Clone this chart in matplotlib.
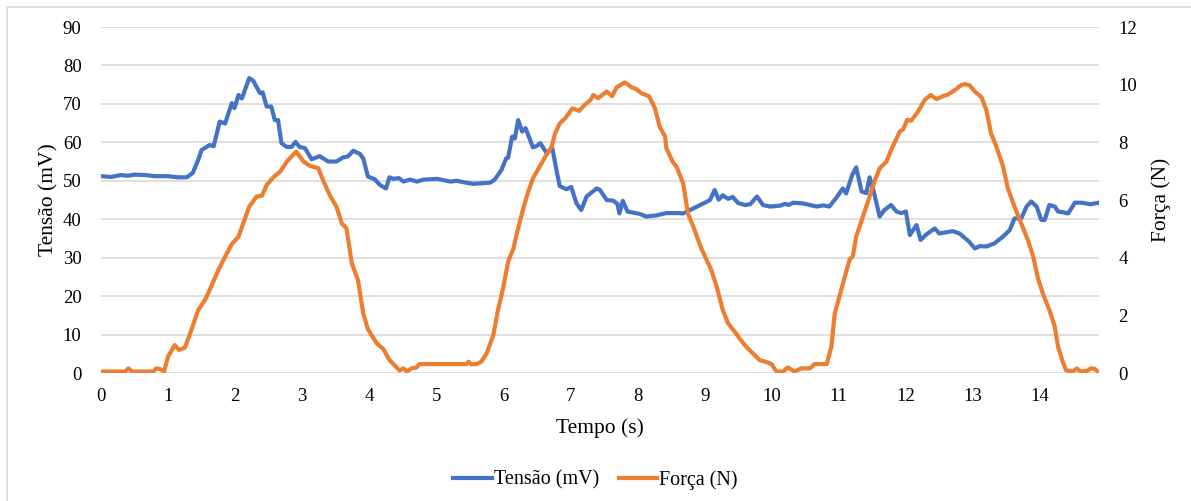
import numpy as np
import matplotlib
matplotlib.use('Agg')
import matplotlib.pyplot as plt
from matplotlib.patches import Rectangle

# Tensão (mV)
t_tensao = [0.00, 0.15, 0.30, 0.40, 0.50, 0.65, 0.80, 1.00, 1.15, 1.28, 1.37, 1.45, 1.50, 1.62, 1.68,
            1.77, 1.85, 1.95, 1.99, 2.05, 2.10, 2.21, 2.27, 2.37, 2.41, 2.47, 2.54, 2.59, 2.64, 2.69,
            2.77, 2.84, 2.90, 2.96, 3.04, 3.14, 3.26, 3.39, 3.51, 3.61, 3.68, 3.76, 3.86, 3.91, 3.98,
            4.08, 4.16, 4.25, 4.30, 4.36, 4.44, 4.51, 4.61, 4.71, 4.81, 5.01, 5.21, 5.31, 5.41, 5.55,
            5.80, 5.87, 5.97, 6.04, 6.07, 6.13, 6.17, 6.22, 6.28, 6.33, 6.44, 6.49, 6.55, 6.64, 6.73,
            6.79, 6.84, 6.94, 7.01, 7.09, 7.16, 7.24, 7.39, 7.44, 7.54, 7.64, 7.70, 7.73, 7.78, 7.85,
            8.03, 8.13, 8.28, 8.43, 8.62, 8.68, 8.83, 8.98, 9.08, 9.15, 9.21, 9.27, 9.35, 9.42, 9.50,
            9.60, 9.68, 9.78, 9.87, 9.97, 10.12, 10.20, 10.25, 10.32, 10.47, 10.67, 10.77, 10.86, 10.96,
            11.06, 11.11, 11.20, 11.26, 11.34, 11.41, 11.46, 11.51, 11.61, 11.68, 11.78, 11.86, 11.93,
            12.00, 12.06, 12.16, 12.22, 12.31, 12.43, 12.50, 12.70, 12.80, 12.94, 13.03, 13.10, 13.20,
            13.32, 13.45, 13.55, 13.62, 13.72, 13.80, 13.87, 13.95, 14.02, 14.07, 14.14, 14.22, 14.27,
            14.35, 14.42, 14.52, 14.62, 14.75, 14.88]
tensao = [51.2, 51.0, 51.5, 51.3, 51.6, 51.5, 51.2, 51.2, 50.9, 50.9, 52.1, 55.5, 58.0, 59.3, 59.0,
          65.4, 64.9, 70.2, 68.9, 72.3, 71.4, 76.7, 76.0, 72.8, 73.0, 69.3, 69.3, 65.8, 65.8, 59.8,
          58.8, 58.8, 60.1, 58.8, 58.5, 55.6, 56.4, 55.0, 55.0, 56.1, 56.3, 57.8, 57.0, 55.8, 51.1,
          50.4, 48.9, 48.0, 50.9, 50.5, 50.7, 49.8, 50.3, 49.8, 50.3, 50.5, 49.8, 50.0, 49.6, 49.2,
          49.5, 50.3, 52.8, 55.8, 56.0, 61.5, 61.0, 65.8, 62.8, 63.7, 58.7, 59.0, 59.8, 57.3, 58.4,
          52.8, 48.6, 47.8, 48.4, 44.1, 42.4, 45.9, 48.0, 47.6, 45.0, 44.8, 44.0, 41.5, 44.8, 42.0,
          41.4, 40.7, 41.0, 41.6, 41.6, 41.5, 42.8, 44.1, 45.0, 47.6, 45.1, 46.2, 45.3, 45.8, 44.2,
          43.7, 43.9, 45.9, 43.7, 43.3, 43.5, 44.0, 43.7, 44.3, 44.1, 43.3, 43.6, 43.3, 45.5,
          48.0, 46.7, 51.5, 53.5, 47.2, 46.8, 50.9, 48.0, 40.7, 42.4, 43.7, 42.0, 41.6,
          42.0, 35.9, 38.5, 34.6, 36.1, 37.6, 36.3, 36.9, 36.3, 34.2, 32.4, 33.0, 32.9,
          33.7, 35.5, 37.2, 40.2, 40.2, 43.3, 44.6, 43.3, 39.8, 39.8, 43.7, 43.3, 42.0,
          41.8, 41.5, 44.3, 44.3, 43.9, 44.3]

# Força (N)
t_forca = [0.00, 0.36, 0.41, 0.46, 0.78, 0.82, 0.88, 0.94, 1.00, 1.10, 1.16, 1.25, 1.33, 1.45, 1.55,
           1.62, 1.75, 1.85, 1.95, 2.05, 2.12, 2.21, 2.32, 2.40, 2.47, 2.57, 2.67, 2.77, 2.91, 3.02,
           3.12, 3.24, 3.31, 3.41, 3.51, 3.59, 3.66, 3.74, 3.83, 3.91, 3.98, 4.11, 4.21, 4.30, 4.36,
           4.45, 4.51, 4.56, 4.63, 4.70, 4.75, 5.45, 5.48, 5.52, 5.60, 5.67, 5.75, 5.85, 5.92, 6.00,
           6.07, 6.15, 6.20, 6.29, 6.37, 6.44, 6.54, 6.64, 6.72, 6.77, 6.84, 6.92, 7.03, 7.13, 7.21,
           7.30, 7.34, 7.41, 7.54, 7.62, 7.69, 7.81, 7.91, 7.98, 8.06, 8.17, 8.26, 8.33, 8.41, 8.43,
           8.53, 8.58, 8.68, 8.75, 8.85, 8.95, 9.03, 9.10, 9.18, 9.27, 9.35, 9.45, 9.52, 9.62, 9.72,
           9.82, 9.95, 10.00, 10.07, 10.17, 10.24, 10.34, 10.44, 10.57, 10.64, 10.82, 10.89, 10.94,
           11.01, 11.09, 11.16, 11.21, 11.26, 11.36, 11.46, 11.54, 11.61, 11.71, 11.78, 11.91, 11.96,
           12.02, 12.08, 12.18, 12.28, 12.37, 12.46, 12.55, 12.62, 12.70, 12.83, 12.88, 12.95, 13.03,
           13.13, 13.20, 13.27, 13.35, 13.45, 13.52, 13.62, 13.72, 13.82, 13.90, 13.97, 14.05, 14.14,
           14.22, 14.27, 14.34, 14.39, 14.49, 14.55, 14.60, 14.70, 14.76, 14.82, 14.88]
forca = [0.05, 0.05, 0.16, 0.05, 0.05, 0.16, 0.14, 0.05, 0.57, 0.97, 0.80, 0.88, 1.38, 2.19, 2.53,
         2.88, 3.57, 4.03, 4.47, 4.73, 5.19, 5.77, 6.12, 6.15, 6.52, 6.79, 6.98, 7.33, 7.68, 7.33,
         7.18, 7.10, 6.69, 6.17, 5.77, 5.19, 5.02, 3.80, 3.23, 2.07, 1.52, 1.03, 0.83, 0.45, 0.31,
         0.09, 0.16, 0.05, 0.16, 0.19, 0.31, 0.31, 0.39, 0.30, 0.31, 0.39, 0.68, 1.32, 2.19, 2.99,
         3.86, 4.32, 4.84, 5.65, 6.29, 6.75, 7.16, 7.56, 7.85, 8.31, 8.66, 8.83, 9.18, 9.09, 9.30,
         9.47, 9.64, 9.53, 9.76, 9.60, 9.91, 10.08, 9.91, 9.85, 9.70, 9.60, 9.18, 8.54, 8.20, 7.79,
         7.30, 7.16, 6.58, 5.54, 4.96, 4.32, 3.92, 3.57, 2.99, 2.19, 1.72, 1.43, 1.20, 0.91, 0.68,
         0.45, 0.36, 0.30, 0.05, 0.05, 0.19, 0.05, 0.16, 0.16, 0.31, 0.31, 0.91, 2.07,
         2.65, 3.34, 3.92, 4.05, 4.73, 5.42, 6.12, 6.69, 7.10, 7.33, 7.73, 8.37, 8.45,
         8.78, 8.75, 9.06, 9.47, 9.64, 9.50, 9.60, 9.65, 9.76, 9.99, 10.02, 9.98, 9.76,
         9.56, 9.12, 8.31, 7.85, 7.16, 6.41, 5.77, 5.19, 4.61, 4.03, 3.28, 2.71, 2.19,
         1.61, 0.91, 0.39, 0.09, 0.05, 0.16, 0.05, 0.07, 0.16, 0.14, 0.0]

x_ticks = list(range(0, 15))
y1_ticks = list(range(0, 91, 10))
y2_ticks = list(range(0, 13, 2))

plt.rcParams['font.family'] = ['Liberation Serif', 'DejaVu Serif']

fig = plt.figure(figsize=(11.91, 5.01), dpi=100)
ax = fig.add_axes([101 / 1191, 128 / 501, 998 / 1191, 346 / 501])
ax2 = ax.twinx()

# moldura da área do gráfico
fig.patches.append(Rectangle((7 / 1191, -0.1), 1.2, (494 / 501) + 0.1, transform=fig.transFigure,
                             fill=False, edgecolor='#d9d9d9', linewidth=1.2))

l1, = ax.plot(t_tensao, tensao, color='#4472C4', linewidth=3.0, label='Tensão (mV)',
              solid_joinstyle='round')
l2, = ax2.plot(t_forca, forca, color='#ED7D31', linewidth=3.0, label='Força (N)',
               solid_joinstyle='round')

ax.set_xlim(0, 14.88)
ax.set_ylim(0, 90)
ax2.set_ylim(0, 12)
ax.set_xticks(x_ticks)
ax.set_yticks(y1_ticks)
ax2.set_yticks(y2_ticks)
ax.grid(axis='y', color='#d9d9d9', linewidth=1.2)
ax.set_axisbelow(True)

for a in (ax, ax2):
    for s in a.spines.values():
        s.set_visible(False)
    a.tick_params(length=0, labelsize=13.5)
ax.tick_params(axis='x', pad=11)
ax.tick_params(axis='y', pad=14)
ax2.tick_params(axis='y', pad=14)

ax.set_xlabel('Tempo (s)', fontsize=15.5, labelpad=9)
ax.set_ylabel('Tensão (mV)', fontsize=15.5, labelpad=3)
ax2.set_ylabel('Força (N)', fontsize=15.5, labelpad=10)

fig.legend(handles=[l1, l2], loc='center', bbox_to_anchor=(0.5, 0.042), ncol=2, frameon=False,
           fontsize=14.5, handlelength=1.9, handletextpad=0.1, columnspacing=1.0)

fig.savefig('out.png', dpi=100)
